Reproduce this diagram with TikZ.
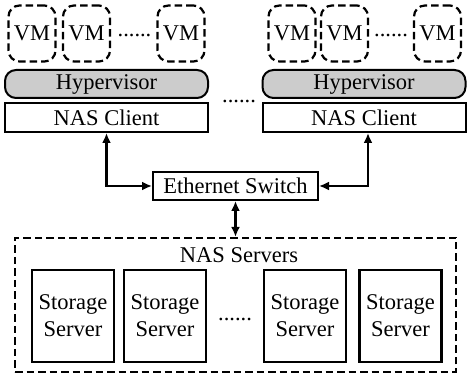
\documentclass[tikz,border=0pt]{standalone}
\usepackage{fontspec}
\setmainfont{Liberation Serif}
\usetikzlibrary{arrows.meta}
\begin{document}
\begin{tikzpicture}[x=1pt,y=-1pt,
  every node/.style={font=\fontsize{22.5}{27}\selectfont, inner sep=0pt},
  vmbox/.style={draw, line width=2.2pt, dash pattern=on 7.5pt off 4pt, rounded corners=11pt, minimum width=47pt, minimum height=56pt},
  hyper/.style={draw, line width=2pt, fill=black!20, rounded corners=11pt, minimum width=203pt, minimum height=28pt},
  client/.style={draw, line width=2pt, minimum width=203pt, minimum height=29pt},
  swbox/.style={draw, line width=2pt, minimum width=165pt, minimum height=28pt},
  groupbox/.style={draw, line width=2.2pt, dash pattern=on 7.5pt off 4pt, minimum width=441pt, minimum height=134pt},
  storebox/.style={draw, line width=2.2pt, minimum width=82pt, minimum height=92pt, align=center},
  dots/.style={anchor=base},
  link/.style={line width=2.2pt, {Latex[length=10pt,width=9pt]}-{Latex[length=10pt,width=9pt]}}
]
\useasboundingbox (0,0) rectangle (467,379);
% left host
\node[vmbox] (lv1) at (32,33.5) {VM};
\node[vmbox] (lv2) at (86.5,33.5) {VM};
\node[vmbox] (lv3) at (181,33.5) {VM};
\node[dots] (ld) at (134.5,37) {......};
\node[hyper] (lh) at (106.5,84) {Hypervisor};
\node[client] (lc) at (106.5,117.5) {NAS Client};
% right host
\node[vmbox] (rv1) at (292,33.5) {VM};
\node[vmbox] (rv2) at (344.5,33.5) {VM};
\node[vmbox] (rv3) at (437.5,33.5) {VM};
\node[dots] (rd) at (391,37) {......};
\node[hyper] (rh) at (364,84) {Hypervisor};
\node[client] (rc) at (364,117.5) {NAS Client};
\node[dots] (md) at (239,103) {......};
% switch
\node[swbox] (sw) at (235.5,186) {Ethernet Switch};
% NAS servers
\node[groupbox] (nas) at (235.5,305) {};
\node (nl) at (239,255) {NAS Servers};
\node[storebox] (s1) at (73,316) {Storage\\Server};
\node[storebox] (s2) at (165,316) {Storage\\Server};
\node[storebox] (s3) at (305,316) {Storage\\Server};
\node[storebox] (s4) at (400.5,316) {Storage\\Server};
\node[dots] (sd) at (235,321) {......};
% links
\draw[link] (lc.south) |- (sw.west);
\draw[link] ([xshift=4pt]rc.south) |- (sw.east);
\draw[link] (sw.south) -- (nas.north);
\end{tikzpicture}
\end{document}
